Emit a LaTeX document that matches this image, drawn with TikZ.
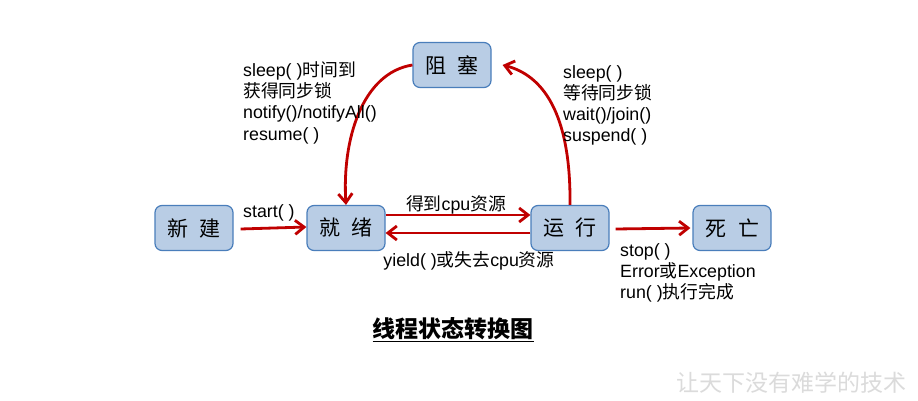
\documentclass[tikz,border=0pt]{standalone}
\usepackage{fontspec}
\setmainfont{Liberation Sans}
\newfontfamily\cjk{Noto Sans CJK SC}
\usetikzlibrary{arrows.meta}
\definecolor{boxfill}{RGB}{185,205,229}
\definecolor{boxline}{RGB}{74,126,187}
\definecolor{arr}{RGB}{192,0,0}
\begin{document}
\begin{tikzpicture}[x=1pt,y=-1pt,
 state/.style={draw=boxline, fill=boxfill, line width=1.2pt, rounded corners=7pt, minimum width=78pt, minimum height=45pt, inner sep=0pt, font=\fontsize{21}{24}\selectfont\cjk},
 trans/.style={draw=arr, line width=2.8pt, -{Straight Barb[length=9pt,width=14pt]}},
 lbl/.style={anchor=base west, inner sep=0pt, font=\fontsize{17.8}{21}\selectfont},
]
\useasboundingbox[fill=white] (0,0) rectangle (918,401);
\node[state] (xj) at (194,228) {新\hspace{12pt}建};
\node[state] (jx) at (346,228) {就\hspace{12pt}绪};
\node[state] (yx) at (570,228) {运\hspace{12pt}行};
\node[state] (sw) at (732,228) {死\hspace{12pt}亡};
\node[state] (zs) at (452,65) {阻\hspace{12pt}塞};

\draw[trans] ([xshift=7pt,yshift=-1pt]xj.east) -- ([yshift=1pt]jx.west);
\draw[trans] ([yshift=13pt]jx.east) -- ([yshift=13pt]yx.west);
\draw[trans] ([yshift=-5pt]yx.west) -- ([yshift=-5pt]jx.east);
\draw[trans] ([xshift=6pt,yshift=-1pt]yx.east) -- ([xshift=-2pt]sw.west);
\draw[trans] (zs.west) .. controls (362,73) and (342,140) .. (jx.north);
\draw[trans] (yx.north) .. controls (571,112) and (542,75) .. ([xshift=11pt]zs.east);

\node[lbl] (s1) at (243,217) {start( )};
\node[lbl, anchor=base] (g1) at (456,210) {{\cjk 得到}cpu{\cjk 资源}};
\node[lbl, anchor=base] (y1) at (469,266) {yield( ){\cjk 或失去}cpu{\cjk 资源}};

\node[lbl] (a1) at (243,77) {sleep( ){\cjk 时间到}};
\node[lbl] (a2) at (243,98) {\cjk 获得同步锁};
\node[lbl] (a3) at (243,119) {notify()/notifyAll()};
\node[lbl] (a4) at (243,140) {resume( )};

\node[lbl] (b1) at (563,79) {sleep( )};
\node[lbl] (b2) at (563,100) {\cjk 等待同步锁};
\node[lbl] (b3) at (563,121) {wait()/join()};
\node[lbl] (b4) at (563,142) {suspend( )};

\node[lbl] (c1) at (620,256) {stop( )};
\node[lbl] (c2) at (620,277) {Error{\cjk 或}Exception};
\node[lbl] (c3) at (620,298) {run( ){\cjk 执行完成}};

\node[inner sep=0pt, font=\fontsize{23}{27}\selectfont\cjk\bfseries] (title) at (453,330) {\underline{线程状态转换图}};
\node[inner sep=0pt, text=black!14, font=\fontsize{23}{27}\selectfont\cjk] (wm) at (791,383) {让天下没有难学的技术};
\end{tikzpicture}
\end{document}
